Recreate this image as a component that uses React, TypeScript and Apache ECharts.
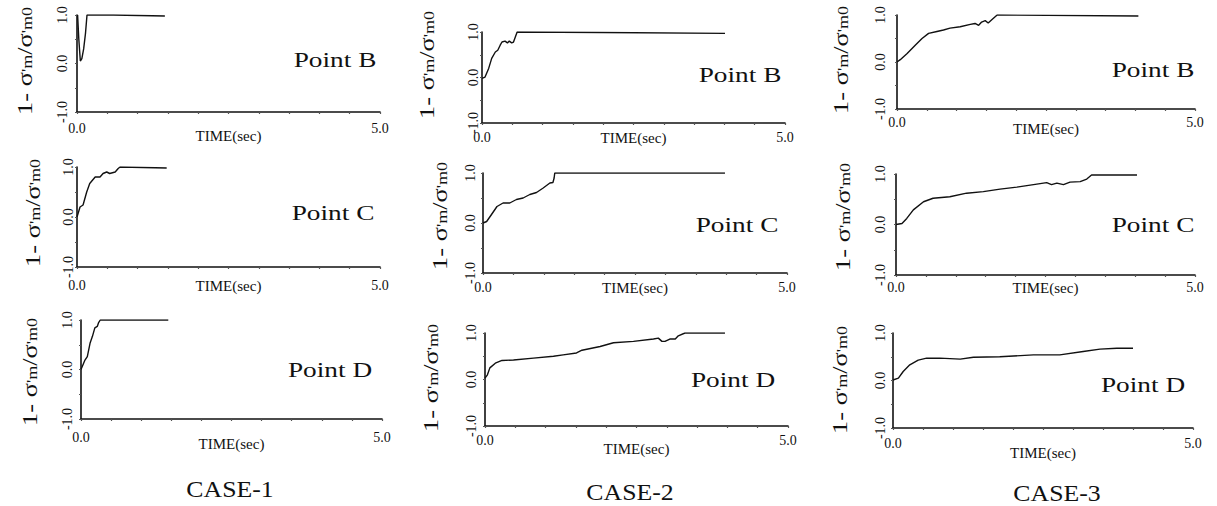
import React, { useEffect, useRef } from "react";
import * as echarts from "echarts";

// ---- text ----
const caseLabels = ["CASE-1", "CASE-2", "CASE-3"];
const pointLabels = ["Point B", "Point C", "Point D"];
const xAxisName = "TIME(sec)";
const xTickValues = [0, 5];
const yTickValues = [-1, 0, 1];

// ---- data: [time (sec), 1 - σ'm/σ'm0] ----
const case1B = [[0.01, 1.0], [0.03, 0.5], [0.055, 0.05], [0.08, 0.1], [0.11, 0.3], [0.14, 0.62], [0.165, 1.0], [0.6, 1.0], [1.45, 0.98]];
const case2B = [[0, -0.02], [0.05, 0.01], [0.11, 0.2], [0.16, 0.42], [0.22, 0.56], [0.26, 0.6], [0.3, 0.71], [0.33, 0.78], [0.38, 0.8], [0.42, 0.76], [0.45, 0.8], [0.49, 0.76], [0.52, 0.78], [0.55, 0.89], [0.58, 1.0], [2.0, 0.99], [4.01, 0.97]];
const case3B = [[0, 0], [0.055, 0.05], [0.17, 0.18], [0.31, 0.36], [0.42, 0.5], [0.53, 0.61], [0.67, 0.65], [0.78, 0.68], [0.89, 0.72], [1.06, 0.75], [1.23, 0.8], [1.31, 0.82], [1.37, 0.78], [1.42, 0.85], [1.48, 0.88], [1.53, 0.83], [1.59, 0.9], [1.68, 1.0], [4.05, 0.98]];
const case1C = [[0, 0], [0.05, 0.2], [0.1, 0.24], [0.16, 0.5], [0.21, 0.67], [0.3, 0.8], [0.38, 0.8], [0.43, 0.87], [0.49, 0.9], [0.54, 0.87], [0.63, 0.9], [0.68, 0.97], [0.71, 1.0], [1.48, 0.98]];
const case2C = [[0, 0], [0.06, 0.03], [0.14, 0.17], [0.23, 0.33], [0.33, 0.4], [0.44, 0.4], [0.55, 0.47], [0.66, 0.5], [0.77, 0.57], [0.88, 0.61], [0.99, 0.7], [1.1, 0.8], [1.15, 0.81], [1.17, 0.9], [1.18, 1.0], [3.98, 1.0]];
const case3C = [[0, 0], [0.1, 0.02], [0.18, 0.12], [0.29, 0.29], [0.46, 0.45], [0.62, 0.52], [0.9, 0.55], [1.18, 0.62], [1.46, 0.65], [1.74, 0.7], [2.02, 0.74], [2.3, 0.79], [2.52, 0.83], [2.6, 0.79], [2.69, 0.82], [2.8, 0.79], [2.91, 0.84], [3.08, 0.85], [3.19, 0.9], [3.27, 0.98], [4.03, 0.98]];
const case1D = [[0, 0], [0.066, 0.19], [0.105, 0.26], [0.15, 0.53], [0.19, 0.67], [0.23, 0.84], [0.27, 0.87], [0.29, 0.94], [0.32, 1.0], [1.45, 1.0]];
const case2D = [[0, 0.03], [0.04, 0.1], [0.08, 0.25], [0.17, 0.35], [0.28, 0.41], [0.47, 0.42], [0.8, 0.46], [1.13, 0.5], [1.29, 0.53], [1.51, 0.57], [1.6, 0.63], [1.9, 0.71], [2.12, 0.79], [2.45, 0.82], [2.78, 0.87], [2.86, 0.89], [2.92, 0.82], [2.97, 0.82], [3.05, 0.87], [3.14, 0.87], [3.19, 0.94], [3.3, 1.0], [3.96, 1.0]];
const case3D = [[0, 0.01], [0.09, 0.05], [0.17, 0.19], [0.28, 0.33], [0.42, 0.43], [0.56, 0.47], [0.78, 0.47], [1.12, 0.45], [1.34, 0.49], [1.78, 0.5], [2.34, 0.54], [2.78, 0.54], [3.17, 0.61], [3.45, 0.66], [3.73, 0.68], [4.0, 0.68]];

// row-major: rows = points B, C, D ; columns = cases 1..3
const panelData = [case1B, case2B, case3B, case1C, case2C, case3C, case1D, case2D, case3D];

// ---- layout (pixels) ----
// g: grid; lm: x label margin; ng: x name gap; ym: y label margin; yl: y title center; pt: point label center
const layout = [
  { g: [77, 15, 303, 97], lm: 9, ng: 16, ym: 8, yl: [24, 61], pt: [335, 60] },
  { g: [482, 32, 303, 91], lm: 7, ng: 7, ym: 2, yl: [426, 65], pt: [740, 75] },
  { g: [897, 15, 298, 94], lm: 6, ng: 12, ym: 10, yl: [840, 60], pt: [1153, 70] },
  { g: [77, 167, 303, 100], lm: 11, ng: 11, ym: 2, yl: [32, 213], pt: [333, 213] },
  { g: [483, 173, 304, 100], lm: 7, ng: 7, ym: 6, yl: [439, 216], pt: [737, 225] },
  { g: [896, 174, 299, 101], lm: 5, ng: 5, ym: 9, yl: [842, 217], pt: [1153, 225] },
  { g: [81, 320, 301, 99], lm: 11, ng: 17, ym: 7, yl: [29, 372], pt: [330, 370] },
  { g: [485, 333, 303, 93], lm: 7, ng: 15, ym: 7, yl: [430, 378], pt: [733, 380] },
  { g: [893, 333, 300, 95], lm: 8, ng: 17, ym: 6, yl: [839, 380], pt: [1143, 385] },
];
const caseCenters = [[230, 489], [630, 492], [1057, 493]];

const FONT = "'Liberation Serif', 'Times New Roman', serif";
const INK = "#111";

export default function App() {
  const ref = useRef<HTMLDivElement>(null);

  useEffect(() => {
    document.body.style.margin = "0";
    const chart = echarts.init(ref.current!, null, { renderer: "svg" });

    const grid = layout.map((l) => ({ left: l.g[0], top: l.g[1], width: l.g[2], height: l.g[3], containLabel: false }));

    const xAxis = layout.map((l, i) => ({
      type: "value",
      gridIndex: i,
      min: 0,
      max: 5,
      interval: 0.5,
      name: xAxisName,
      nameLocation: "middle",
      nameGap: l.ng,
      nameMoveOverlap: false,
      nameTextStyle: { fontFamily: FONT, fontSize: 15, color: INK, fontWeight: "normal" },
      axisLine: { show: true, onZero: false, lineStyle: { color: INK, width: 1.6 } },
      axisTick: { show: true, length: 2, lineStyle: { color: "#555", width: 1.2 } },
      axisLabel: {
        customValues: xTickValues,
        margin: l.lm,
        fontFamily: FONT,
        fontSize: 14,
        color: INK,
        formatter: (v: number) => v.toFixed(1),
      },
      splitLine: { show: false },
    }));

    const yAxis = layout.map((l, i) => ({
      type: "value",
      gridIndex: i,
      min: -1,
      max: 1,
      interval: 0.5,
      axisLine: { show: true, onZero: false, lineStyle: { color: INK, width: 1.6 } },
      axisTick: { show: true, length: 2, lineStyle: { color: "#555", width: 1.2 } },
      axisLabel: {
        customValues: yTickValues,
        rotate: 90,
        margin: l.ym,
        fontFamily: FONT,
        fontSize: 14,
        color: INK,
        formatter: (v: number) => v.toFixed(1),
      },
      splitLine: { show: false },
    }));

    const series = panelData.map((d, i) => ({
      type: "line",
      xAxisIndex: i,
      yAxisIndex: i,
      data: d,
      showSymbol: false,
      symbol: "none",
      lineStyle: { color: INK, width: 1.4 },
      silent: true,
    }));

    const graphic: any[] = [];
    layout.forEach((l, i) => {
      graphic.push({
        type: "text",
        x: l.pt[0],
        y: l.pt[1],
        scaleX: 1.3,
        style: {
          text: pointLabels[Math.floor(i / 3)],
          fontFamily: FONT,
          fontSize: 21,
          fill: INK,
          align: "center",
          verticalAlign: "middle",
          textAlign: "center",
          textVerticalAlign: "middle",
        },
      });
      graphic.push({
        type: "text",
        x: l.yl[0],
        y: l.yl[1],
        rotation: Math.PI / 2,
        scaleX: 1.2,
        style: {
          text: "{a|1- σ}{s|'m}{a|/σ}{s|'m0}",
          rich: {
            a: { fontFamily: FONT, fontSize: 22, fill: INK },
            s: { fontFamily: FONT, fontSize: 15, fill: INK, verticalAlign: "bottom" },
          },
          fill: INK,
          align: "center",
          verticalAlign: "middle",
          textAlign: "center",
          textVerticalAlign: "middle",
        },
      });
    });
    caseCenters.forEach((c, i) => {
      graphic.push({
        type: "text",
        x: c[0],
        y: c[1],
        scaleX: 1.12,
        style: {
          text: caseLabels[i],
          fontFamily: FONT,
          fontSize: 23,
          fill: INK,
          align: "center",
          verticalAlign: "middle",
          textAlign: "center",
          textVerticalAlign: "middle",
        },
      });
    });

    chart.setOption({
      animation: false,
      backgroundColor: "#ffffff",
      grid,
      xAxis,
      yAxis,
      series,
      graphic,
    } as any);

    return () => chart.dispose();
  }, []);

  return <div ref={ref} style={{ position: "absolute", left: 0, top: 0, width: 1217, height: 506 }} />;
}
